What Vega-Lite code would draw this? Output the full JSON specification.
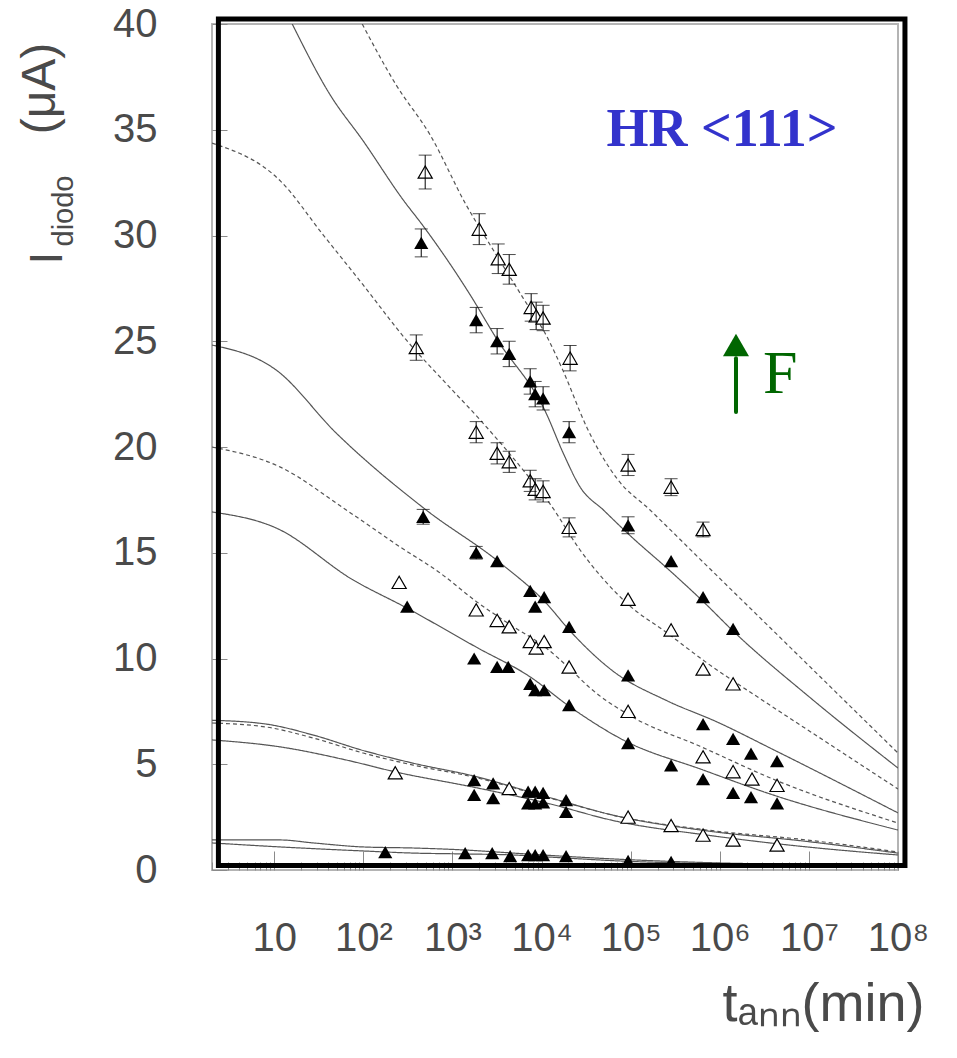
{
  "$schema": "https://vega.github.io/schema/vega-lite/v6.json",
  "width": 686,
  "height": 846,
  "autosize": {"type": "none"},
  "padding": {"left": 212, "top": 24, "right": 59, "bottom": 188},
  "background": "white",
  "config": {
    "view": {"stroke": "#b4b4b4", "strokeWidth": 2},
    "axis": {"grid": false, "domain": false, "labelFont": "Liberation Sans", "titleFont": "Liberation Sans", "labelColor": "#4a4a4a", "titleColor": "#4a4a4a", "titleFontWeight": "normal", "tickColor": "#8a8a8a", "tickWidth": 1}
  },
  "datasets": {
    "curves": [
      {"c":"S1","d":"solid","t":15.9,"v":40},{"c":"S1","d":"solid","t":42.5,"v":36.64},{"c":"S1","d":"solid","t":99.5,"v":34.47},{"c":"S1","d":"solid","t":280,"v":31.68},{"c":"S1","d":"solid","t":469,"v":30.45},{"c":"S1","d":"solid","t":1581,"v":27.19},{"c":"S1","d":"solid","t":3093,"v":25.15},{"c":"S1","d":"solid","t":11250,"v":21.6},{"c":"S1","d":"solid","t":17450,"v":19.72},{"c":"S1","d":"solid","t":27050,"v":18.11},{"c":"S1","d":"solid","t":50000,"v":17.0},{"c":"S1","d":"solid","t":93500,"v":15.9},{"c":"S1","d":"solid","t":284000,"v":14.1},{"c":"S1","d":"solid","t":649000,"v":12.7},{"c":"S1","d":"solid","t":1410000,"v":11.3},{"c":"S1","d":"solid","t":11100000,"v":8.04},{"c":"S1","d":"solid","t":100000000,"v":4.82},
      {"c":"D1","d":"dashed","t":97,"v":40},{"c":"D1","d":"dashed","t":233,"v":37.12},{"c":"D1","d":"dashed","t":562,"v":34.75},{"c":"D1","d":"dashed","t":1426,"v":31.44},{"c":"D1","d":"dashed","t":2650,"v":29.55},{"c":"D1","d":"dashed","t":6210,"v":27.04},{"c":"D1","d":"dashed","t":11530,"v":25.2},{"c":"D1","d":"dashed","t":17450,"v":23.6},{"c":"D1","d":"dashed","t":32400,"v":20.9},{"c":"D1","d":"dashed","t":70300,"v":18.5},{"c":"D1","d":"dashed","t":165000,"v":17.02},{"c":"D1","d":"dashed","t":600000,"v":14.7},{"c":"D1","d":"dashed","t":2180000,"v":12.39},{"c":"D1","d":"dashed","t":5120000,"v":10.86},{"c":"D1","d":"dashed","t":22300000,"v":8.22},{"c":"D1","d":"dashed","t":100000000,"v":5.53},
      {"c":"S2","d":"solid","t":2,"v":24.82},{"c":"S2","d":"solid","t":10.5,"v":23.64},{"c":"S2","d":"solid","t":49.5,"v":20.66},{"c":"S2","d":"solid","t":507,"v":17.02},{"c":"S2","d":"solid","t":3430,"v":14.52},{"c":"S2","d":"solid","t":11250,"v":12.62},{"c":"S2","d":"solid","t":20900,"v":11.3},{"c":"S2","d":"solid","t":63500,"v":9.4},{"c":"S2","d":"solid","t":256000,"v":8.0},{"c":"S2","d":"solid","t":931000,"v":7.0},{"c":"S2","d":"solid","t":3950000,"v":5.7},{"c":"S2","d":"solid","t":100000000,"v":2.7},
      {"c":"D2","d":"dashed","t":2,"v":34.37},{"c":"D2","d":"dashed","t":11.7,"v":32.58},{"c":"D2","d":"dashed","t":35.5,"v":30.02},{"c":"D2","d":"dashed","t":99.5,"v":27.66},{"c":"D2","d":"dashed","t":303,"v":25.06},{"c":"D2","d":"dashed","t":850,"v":23.0},{"c":"D2","d":"dashed","t":2045,"v":21.28},{"c":"D2","d":"dashed","t":6210,"v":18.91},{"c":"D2","d":"dashed","t":12470,"v":17.3},{"c":"D2","d":"dashed","t":27050,"v":15.13},{"c":"D2","d":"dashed","t":91200,"v":12.6},{"c":"D2","d":"dashed","t":256000,"v":11.21},{"c":"D2","d":"dashed","t":719000,"v":9.79},{"c":"D2","d":"dashed","t":2980000,"v":8.04},{"c":"D2","d":"dashed","t":14400000,"v":6.15},{"c":"D2","d":"dashed","t":100000000,"v":3.83},
      {"c":"D3","d":"dashed","t":2,"v":20.0},{"c":"D3","d":"dashed","t":11.7,"v":19.05},{"c":"D3","d":"dashed","t":64.3,"v":17.02},{"c":"D3","d":"dashed","t":259,"v":15.27},{"c":"D3","d":"dashed","t":728,"v":14.04},{"c":"D3","d":"dashed","t":1845,"v":12.7},{"c":"D3","d":"dashed","t":4440,"v":11.6},{"c":"D3","d":"dashed","t":11250,"v":10.5},{"c":"D3","d":"dashed","t":20370,"v":9.55},{"c":"D3","d":"dashed","t":35100,"v":8.6},{"c":"D3","d":"dashed","t":98400,"v":7.3},{"c":"D3","d":"dashed","t":600000,"v":5.85},{"c":"D3","d":"dashed","t":3950000,"v":4.3},{"c":"D3","d":"dashed","t":100000000,"v":2.22},
      {"c":"S3","d":"solid","t":2,"v":16.93},{"c":"S3","d":"solid","t":10.5,"v":16.17},{"c":"S3","d":"solid","t":76.9,"v":13.71},{"c":"S3","d":"solid","t":303,"v":12.4},{"c":"S3","d":"solid","t":1845,"v":10.54},{"c":"S3","d":"solid","t":7450,"v":9.13},{"c":"S3","d":"solid","t":20900,"v":7.71},{"c":"S3","d":"solid","t":82200,"v":6.15},{"c":"S3","d":"solid","t":649000,"v":4.73},{"c":"S3","d":"solid","t":3950000,"v":3.55},{"c":"S3","d":"solid","t":100000000,"v":1.89},
      {"c":"D4","d":"dashed","t":2,"v":6.95},{"c":"D4","d":"dashed","t":8.1,"v":6.76},{"c":"D4","d":"dashed","t":27.4,"v":6.24},{"c":"D4","d":"dashed","t":99.5,"v":5.53},{"c":"D4","d":"dashed","t":362,"v":4.96},{"c":"D4","d":"dashed","t":1706,"v":4.4},{"c":"D4","d":"dashed","t":11250,"v":3.45},{"c":"D4","d":"dashed","t":70000,"v":2.55},{"c":"D4","d":"dashed","t":719000,"v":1.89},{"c":"D4","d":"dashed","t":9500000,"v":1.42},{"c":"D4","d":"dashed","t":100000000,"v":0.85},
      {"c":"S4","d":"solid","t":2,"v":7.08},{"c":"S4","d":"solid","t":8.1,"v":6.9},{"c":"S4","d":"solid","t":27.4,"v":6.38},{"c":"S4","d":"solid","t":99.5,"v":5.65},{"c":"S4","d":"solid","t":362,"v":5.05},{"c":"S4","d":"solid","t":1706,"v":4.45},{"c":"S4","d":"solid","t":11250,"v":3.47},{"c":"S4","d":"solid","t":70000,"v":2.55},{"c":"S4","d":"solid","t":719000,"v":1.85},{"c":"S4","d":"solid","t":9500000,"v":1.35},{"c":"S4","d":"solid","t":100000000,"v":0.8},
      {"c":"S5","d":"solid","t":2,"v":6.15},{"c":"S5","d":"solid","t":11.7,"v":5.82},{"c":"S5","d":"solid","t":64.3,"v":5.2},{"c":"S5","d":"solid","t":233,"v":4.63},{"c":"S5","d":"solid","t":1706,"v":3.92},{"c":"S5","d":"solid","t":11250,"v":3.17},{"c":"S5","d":"solid","t":70000,"v":2.3},{"c":"S5","d":"solid","t":719000,"v":1.65},{"c":"S5","d":"solid","t":9500000,"v":1.09},{"c":"S5","d":"solid","t":100000000,"v":0.71},
      {"c":"B1","d":"solid","t":2,"v":1.42},{"c":"B1","d":"solid","t":11.7,"v":1.42},{"c":"B1","d":"solid","t":27.4,"v":1.28},{"c":"B1","d":"solid","t":99.5,"v":1.09},{"c":"B1","d":"solid","t":362,"v":1.04},{"c":"B1","d":"solid","t":1318,"v":0.95},{"c":"B1","d":"solid","t":4800,"v":0.8},{"c":"B1","d":"solid","t":11250,"v":0.7},{"c":"B1","d":"solid","t":82200,"v":0.5},{"c":"B1","d":"solid","t":719000,"v":0.35},{"c":"B1","d":"solid","t":9500000,"v":0.25},{"c":"B1","d":"solid","t":100000000,"v":0.15},
      {"c":"B2","d":"solid","t":2,"v":1.28},{"c":"B2","d":"solid","t":11.7,"v":1.09},{"c":"B2","d":"solid","t":99.5,"v":0.9},{"c":"B2","d":"solid","t":362,"v":0.8},{"c":"B2","d":"solid","t":1318,"v":0.76},{"c":"B2","d":"solid","t":4800,"v":0.71},{"c":"B2","d":"solid","t":11250,"v":0.62},{"c":"B2","d":"solid","t":82200,"v":0.42},{"c":"B2","d":"solid","t":719000,"v":0.3},{"c":"B2","d":"solid","t":9500000,"v":0.2},{"c":"B2","d":"solid","t":100000000,"v":0.12}
    ],
    "pts": [
      {"s":"A","f":"open","t":494,"v":33.0,"lo":32.2,"hi":33.8},{"s":"A","f":"open","t":1995,"v":30.3,"lo":29.57,"hi":31.03},{"s":"A","f":"open","t":3260,"v":28.9,"lo":28.2,"hi":29.6},{"s":"A","f":"open","t":4330,"v":28.4,"lo":27.7,"hi":29.1},{"s":"A","f":"open","t":7640,"v":26.6,"lo":25.95,"hi":27.25},{"s":"A","f":"open","t":8690,"v":26.2,"lo":25.55,"hi":26.85},{"s":"A","f":"open","t":10400,"v":26.1,"lo":25.5,"hi":26.7},{"s":"A","f":"open","t":20900,"v":24.2,"lo":23.6,"hi":24.8},{"s":"A","f":"open","t":93500,"v":19.15,"lo":18.65,"hi":19.65},{"s":"A","f":"open","t":284000,"v":18.1,"lo":17.7,"hi":18.5},{"s":"A","f":"open","t":649000,"v":16.1,"lo":15.75,"hi":16.45},
      {"s":"B","f":"filled","t":446,"v":29.65,"lo":28.99,"hi":30.31},{"s":"B","f":"filled","t":1845,"v":26.0,"lo":25.4,"hi":26.6},{"s":"B","f":"filled","t":3170,"v":25.0,"lo":24.4,"hi":25.6},{"s":"B","f":"filled","t":4330,"v":24.4,"lo":23.8,"hi":25.0},{"s":"B","f":"filled","t":7450,"v":23.1,"lo":22.5,"hi":23.7},{"s":"B","f":"filled","t":8470,"v":22.5,"lo":21.9,"hi":23.1},{"s":"B","f":"filled","t":10400,"v":22.3,"lo":21.75,"hi":22.85},{"s":"B","f":"filled","t":20370,"v":20.7,"lo":20.2,"hi":21.2},{"s":"B","f":"filled","t":93500,"v":16.3,"lo":15.9,"hi":16.7},{"s":"B","f":"filled","t":284000,"v":14.6},{"s":"B","f":"filled","t":649000,"v":12.9},{"s":"B","f":"filled","t":1410000,"v":11.4},
      {"s":"C","f":"open","t":392,"v":24.7,"lo":24.1,"hi":25.3},{"s":"C","f":"open","t":1845,"v":20.7,"lo":20.2,"hi":21.2},{"s":"C","f":"open","t":3170,"v":19.7,"lo":19.2,"hi":20.2},{"s":"C","f":"open","t":4330,"v":19.3,"lo":18.8,"hi":19.8},{"s":"C","f":"open","t":7450,"v":18.4,"lo":17.9,"hi":18.9},{"s":"C","f":"open","t":8470,"v":18.0,"lo":17.5,"hi":18.5},{"s":"C","f":"open","t":10400,"v":17.9,"lo":17.4,"hi":18.4},{"s":"C","f":"open","t":20370,"v":16.2,"lo":15.75,"hi":16.65},{"s":"C","f":"open","t":93500,"v":12.8},{"s":"C","f":"open","t":284000,"v":11.35},{"s":"C","f":"open","t":649000,"v":9.5},{"s":"C","f":"open","t":1410000,"v":8.8},
      {"s":"D","f":"filled","t":469,"v":16.7,"lo":16.35,"hi":17.05},{"s":"D","f":"filled","t":1845,"v":15.0,"lo":14.7,"hi":15.3},{"s":"D","f":"filled","t":3170,"v":14.6},{"s":"D","f":"filled","t":7450,"v":13.2},{"s":"D","f":"filled","t":8470,"v":12.45},{"s":"D","f":"filled","t":10690,"v":12.9},{"s":"D","f":"filled","t":20370,"v":11.5},{"s":"D","f":"filled","t":93500,"v":9.2},{"s":"D","f":"filled","t":649000,"v":6.9},{"s":"D","f":"filled","t":1410000,"v":6.2},{"s":"D","f":"filled","t":2240000,"v":5.5},{"s":"D","f":"filled","t":4390000,"v":5.15},
      {"s":"E","f":"open","t":252,"v":13.6},{"s":"E","f":"open","t":1845,"v":12.3},{"s":"E","f":"open","t":3170,"v":11.8},{"s":"E","f":"open","t":4330,"v":11.5},{"s":"E","f":"open","t":7450,"v":10.8},{"s":"E","f":"open","t":8690,"v":10.5},{"s":"E","f":"open","t":10690,"v":10.8},{"s":"E","f":"open","t":20370,"v":9.6},{"s":"E","f":"open","t":93500,"v":7.5},{"s":"E","f":"open","t":649000,"v":5.35},{"s":"E","f":"open","t":1410000,"v":4.65},{"s":"E","f":"open","t":2300000,"v":4.3},{"s":"E","f":"open","t":4390000,"v":4.0},
      {"s":"F","f":"filled","t":310,"v":12.45},{"s":"F","f":"filled","t":1750,"v":10.0},{"s":"F","f":"filled","t":3170,"v":9.6},{"s":"F","f":"filled","t":4220,"v":9.6},{"s":"F","f":"filled","t":7450,"v":8.8},{"s":"F","f":"filled","t":8470,"v":8.5},{"s":"F","f":"filled","t":10690,"v":8.5},{"s":"F","f":"filled","t":20370,"v":7.8},{"s":"F","f":"filled","t":93500,"v":6.0},{"s":"F","f":"filled","t":284000,"v":4.95},{"s":"F","f":"filled","t":649000,"v":4.3},{"s":"F","f":"filled","t":1410000,"v":3.65},{"s":"F","f":"filled","t":2240000,"v":3.45},{"s":"F","f":"filled","t":4390000,"v":3.15},
      {"s":"G","f":"open","t":228,"v":4.6},{"s":"G","f":"open","t":4330,"v":3.85},{"s":"G","f":"open","t":93500,"v":2.5},{"s":"G","f":"open","t":284000,"v":2.1},{"s":"G","f":"open","t":649000,"v":1.65},{"s":"G","f":"open","t":1410000,"v":1.42},{"s":"G","f":"open","t":4390000,"v":1.18},
      {"s":"H","f":"filled","t":1750,"v":4.25},{"s":"H","f":"filled","t":2860,"v":4.1},{"s":"H","f":"filled","t":7060,"v":3.7},{"s":"H","f":"filled","t":8470,"v":3.7},{"s":"H","f":"filled","t":10400,"v":3.65},{"s":"H","f":"filled","t":18830,"v":3.3},
      {"s":"I","f":"filled","t":1750,"v":3.55},{"s":"I","f":"filled","t":2860,"v":3.4},{"s":"I","f":"filled","t":7060,"v":3.15},{"s":"I","f":"filled","t":8470,"v":3.15},{"s":"I","f":"filled","t":10400,"v":3.2},{"s":"I","f":"filled","t":18830,"v":2.75},
      {"s":"J","f":"filled","t":176,"v":0.85},{"s":"J","f":"filled","t":1387,"v":0.8},{"s":"J","f":"filled","t":2790,"v":0.8},{"s":"J","f":"filled","t":4440,"v":0.66},{"s":"J","f":"filled","t":7060,"v":0.7},{"s":"J","f":"filled","t":8470,"v":0.7},{"s":"J","f":"filled","t":10400,"v":0.7},{"s":"J","f":"filled","t":18830,"v":0.66},{"s":"J","f":"filled","t":93500,"v":0.43},{"s":"J","f":"filled","t":284000,"v":0.38}
    ]
  },
  "layer": [
    {
      "data": {"name": "curves"},
      "mark": {"type": "line", "interpolate": "monotone", "strokeWidth": 1.2, "color": "#555555", "clip": true},
      "encoding": {
        "x": {"field": "t", "type": "quantitative", "scale": {"type": "log", "domain": [2, 100000000], "nice": false},
              "axis": {"orient": "bottom", "values": [10, 100, 1000, 10000, 100000, 1000000, 10000000, 100000000], "labels": false, "ticks": true, "tickSize": 19, "offset": -19, "title": null}},
        "y": {"field": "v", "type": "quantitative", "scale": {"domain": [0, 40], "nice": false, "zero": false},
              "axis": {"orient": "left", "values": [0, 5, 10, 15, 20, 25, 30, 35, 40], "labels": false, "ticks": true, "tickSize": 15, "offset": -15, "title": null}},
        "detail": {"field": "c"},
        "strokeDash": {"field": "d", "type": "nominal", "scale": {"domain": ["solid", "dashed"], "range": [[1, 0], [4, 3]]}, "legend": null}
      }
    },
    {
      "data": {"name": "pts"},
      "transform": [{"filter": "datum.f == 'filled'"}],
      "mark": {"type": "point", "shape": "triangle-up", "size": 200, "filled": true, "color": "black", "opacity": 1},
      "encoding": {
        "x": {"field": "t", "type": "quantitative", "scale": {"type": "log", "domain": [2, 100000000], "nice": false},
              "axis": {"orient": "bottom", "values": [10, 100, 1000, 10000, 100000, 1000000, 10000000, 100000000], "ticks": false, "labelFontSize": 40, "labelPadding": 80, "labelBaseline": "alphabetic", "labelFlush": false, "labelOverlap": false,
                       "labelExpr": "datum.value == 10 ? '10' : '10' + ['','','²','³','⁴','⁵','⁶','⁷','⁸'][round(log(datum.value)/LN10)]",
                       "title": "tₐₙₙ(min)", "titleFontSize": 54, "titleX": 712, "titleY": 150, "titleAlign": "right", "titleBaseline": "alphabetic", "titleAngle": 0}},
        "y": {"field": "v", "type": "quantitative", "scale": {"domain": [0, 40], "nice": false, "zero": false},
              "axis": {"orient": "left", "values": [0, 5, 10, 15, 20, 25, 30, 35, 40], "ticks": false, "labelFontSize": 40, "labelPadding": 55, "labelBaseline": "middle", "labelAlign": "right",
                       "title": "I", "titleFontSize": 46, "titleAngle": -90, "titleX": -151, "titleY": 240, "titleAlign": "left", "titleBaseline": "alphabetic"}}
      }
    },
    {
      "data": {"name": "pts"},
      "transform": [{"filter": "datum.f == 'open'"}],
      "mark": {"type": "point", "shape": "triangle-up", "size": 200, "filled": false, "stroke": "black", "strokeWidth": 1.2, "fill": "white", "fillOpacity": 1, "opacity": 1},
      "encoding": {
        "x": {"field": "t", "type": "quantitative", "scale": {"type": "log", "domain": [2, 100000000], "nice": false},
              "axis": {"orient": "bottom", "values": [2,3,4,5,6,7,8,9,20,30,40,50,60,70,80,90,200,300,400,500,600,700,800,900,2000,3000,4000,5000,6000,7000,8000,9000,20000,30000,40000,50000,60000,70000,80000,90000,200000,300000,400000,500000,600000,700000,800000,900000,2000000,3000000,4000000,5000000,6000000,7000000,8000000,9000000,20000000,30000000,40000000,50000000,60000000,70000000,80000000,90000000], "labels": false, "ticks": true, "tickSize": 8, "offset": -8, "title": null}},
        "y": {"field": "v", "type": "quantitative", "scale": {"domain": [0, 40], "nice": false, "zero": false},
              "axis": {"orient": "left", "labels": false, "ticks": false, "title": "diodo", "titleFontSize": 29, "titleAngle": -90, "titleX": -140, "titleY": 222, "titleAlign": "left", "titleBaseline": "alphabetic"}}
      }
    },
    {
      "data": {"name": "pts"},
      "transform": [{"filter": "isValid(datum.lo)"}],
      "mark": {"type": "errorbar", "ticks": true, "size": 13, "thickness": 1, "color": "black"},
      "encoding": {
        "x": {"field": "t", "type": "quantitative", "scale": {"type": "log", "domain": [2, 100000000], "nice": false}, "axis": null},
        "y": {"field": "lo", "type": "quantitative", "scale": {"domain": [0, 40], "nice": false, "zero": false}, "axis": null},
        "y2": {"field": "hi"}
      }
    },
    {
      "data": {"values": [{"t": 1060000, "v": 34.23, "label": "HR <111>"}]},
      "mark": {"type": "text", "font": "Liberation Serif", "fontWeight": "bold", "fontSize": 54, "color": "#3333cc", "align": "center", "baseline": "alphabetic"},
      "encoding": {
        "x": {"field": "t", "type": "quantitative", "scale": {"type": "log", "domain": [2, 100000000], "nice": false}, "axis": null},
        "y": {"field": "v", "type": "quantitative", "scale": {"domain": [0, 40], "nice": false, "zero": false},
              "axis": {"orient": "left", "labels": false, "ticks": false, "title": "(μA)", "titleFontSize": 48, "titleAngle": -90, "titleX": -158, "titleY": 64, "titleAlign": "center", "titleBaseline": "alphabetic"}},
        "text": {"field": "label"}
      }
    },
    {
      "data": {"values": [{"t": 3050000, "v": 22.55, "label": "F"}]},
      "mark": {"type": "text", "font": "Liberation Serif", "fontSize": 62, "color": "#006600", "align": "left", "baseline": "alphabetic"},
      "encoding": {
        "x": {"field": "t", "type": "quantitative", "scale": {"type": "log", "domain": [2, 100000000], "nice": false}, "axis": null},
        "y": {"field": "v", "type": "quantitative", "scale": {"domain": [0, 40], "nice": false, "zero": false}, "axis": null},
        "text": {"field": "label"}
      }
    },
    {
      "data": {"values": [{"t": 1520000, "v": 21.65, "v2": 24.2}]},
      "mark": {"type": "rule", "color": "#006600", "strokeWidth": 4, "strokeCap": "round"},
      "encoding": {
        "x": {"field": "t", "type": "quantitative", "scale": {"type": "log", "domain": [2, 100000000], "nice": false}, "axis": null},
        "y": {"field": "v", "type": "quantitative", "scale": {"domain": [0, 40], "nice": false, "zero": false}, "axis": null},
        "y2": {"field": "v2"}
      }
    },
    {
      "data": {"values": [{"t": 1520000, "v": 24.82}]},
      "mark": {"type": "point", "shape": "triangle-up", "size": 676, "filled": true, "color": "#006600", "opacity": 1},
      "encoding": {
        "x": {"field": "t", "type": "quantitative", "scale": {"type": "log", "domain": [2, 100000000], "nice": false}, "axis": null},
        "y": {"field": "v", "type": "quantitative", "scale": {"domain": [0, 40], "nice": false, "zero": false}, "axis": null}
      }
    },
    {
      "data": {"values": [{"x1": 2.36, "x2": 119700000, "y1": 0.21, "y2": 40.24}]},
      "mark": {"type": "rect", "fillOpacity": 0, "stroke": "black", "strokeWidth": 5},
      "encoding": {
        "x": {"field": "x1", "type": "quantitative", "scale": {"type": "log", "domain": [2, 100000000], "nice": false}, "axis": null},
        "x2": {"field": "x2"},
        "y": {"field": "y1", "type": "quantitative", "scale": {"domain": [0, 40], "nice": false, "zero": false}, "axis": null},
        "y2": {"field": "y2"}
      }
    }
  ],
  "resolve": {"axis": {"x": "independent", "y": "independent"}}
}
